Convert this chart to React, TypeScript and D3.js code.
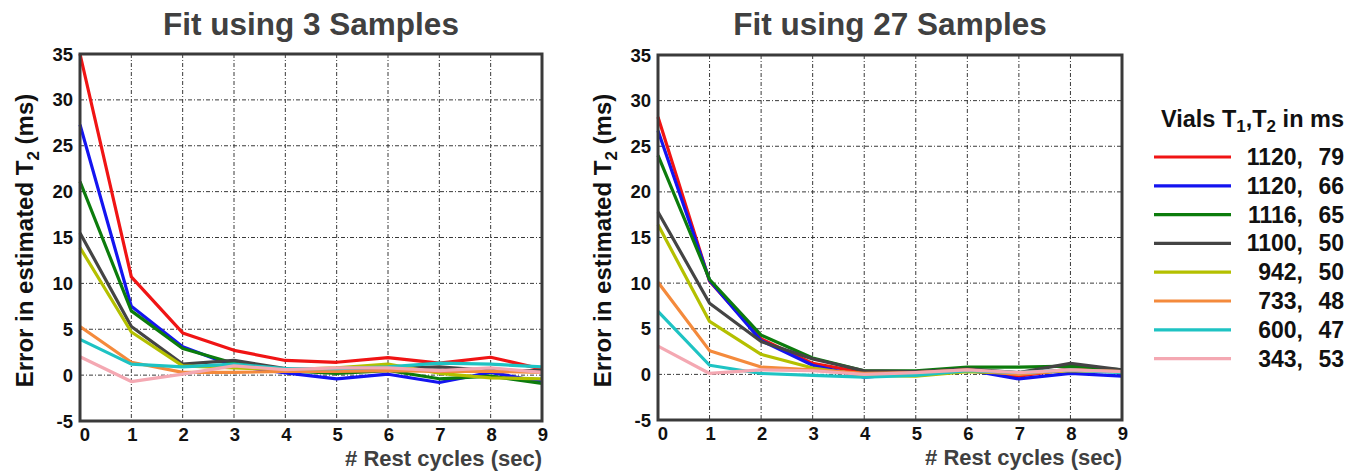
import React from "react";
import * as d3 from "d3";

// Rest cycles between acquisitions (sec)
const restCycles = [0, 1, 2, 3, 4, 5, 6, 7, 8, 9];
const yTickValues = [-5, 0, 5, 10, 15, 20, 25, 30, 35];

// Vials: T1, T2 in ms
const vialT1 = ["1120", "1120", "1116", "1100", "942", "733", "600", "343"];
const vialT2 = ["79", "66", "65", "50", "50", "48", "47", "53"];
const vialColors = ["#f01414", "#1414f0", "#0c7c0c", "#444444", "#b4c000", "#f48a3c", "#1ec3c3", "#f4a8b2"];

// Error in estimated T2 (ms), fit using 3 samples, one row per vial
const fit3Errors: number[][] = [
  [35.0, 10.7, 4.6, 2.7, 1.6, 1.4, 1.9, 1.3, 1.95, 0.65],
  [27.3, 7.5, 3.1, 1.0, 0.25, -0.4, 0.1, -0.8, 0.3, -0.75],
  [21.1, 7.0, 2.9, 1.3, 0.5, 0.2, 0.5, -0.4, -0.1, -0.9],
  [15.5, 5.3, 1.2, 1.6, 0.7, 0.5, 0.7, 0.9, 0.5, 0.5],
  [13.9, 4.7, 1.0, 0.8, 0.6, 0.8, 1.2, 0.2, -0.3, -0.4],
  [5.3, 1.4, 0.3, 0.3, 0.4, 0.4, 0.5, 0.4, 0.4, 0.3],
  [3.9, 1.2, 0.9, 1.2, 0.7, 0.7, 0.9, 1.3, 1.2, 0.9],
  [2.0, -0.7, 0.1, 1.0, 0.6, 0.8, 0.8, 0.5, 0.8, 0.3],
];

// Error in estimated T2 (ms), fit using 27 samples, one row per vial
const fit27Errors: number[][] = [
  [28.2, 10.2, 3.9, 1.2, 0.2, 0.2, 0.5, -0.2, 0.6, 0.3],
  [26.7, 10.3, 3.7, 1.0, -0.3, 0.1, 0.5, -0.5, 0.1, -0.2],
  [24.0, 10.4, 4.3, 1.8, 0.4, 0.4, 0.8, 0.8, 0.9, 0.5],
  [17.8, 7.8, 3.6, 1.7, 0.4, 0.3, 0.6, 0.2, 1.2, 0.5],
  [16.4, 5.8, 2.2, 0.7, -0.1, -0.2, 0.3, 0.1, 0.4, 0.3],
  [10.1, 2.6, 0.8, 0.5, 0.1, 0.2, 0.5, 0.0, 0.5, 0.3],
  [6.9, 1.0, 0.1, -0.1, -0.3, -0.1, 0.4, 0.2, 0.5, 0.2],
  [3.1, 0.1, 0.5, 0.4, 0.0, 0.2, 0.5, 0.2, 0.5, 0.3],
];

const FONT = "'Liberation Sans', Arial, Helvetica, sans-serif";

type PanelProps = {
  title: string;
  errors: number[][];
  left: number;
  right: number;
  top: number;
  bottom: number;
};

function Panel({ title, errors, left, right, top, bottom }: PanelProps) {
  const x = d3.scaleLinear().domain([0, 9]).range([left, right]);
  const y = d3.scaleLinear().domain([-5, 35]).range([bottom, top]);
  const line = d3
    .line<number>()
    .x((_, i) => x(restCycles[i]))
    .y((d) => y(d));

  const gridStyle = {
    stroke: "#3a3a3a",
    strokeWidth: 1,
    strokeDasharray: "4 2 1 2",
  };

  return (
    <g>
      <text
        x={(left + right) / 2}
        y={35}
        textAnchor="middle"
        fontFamily={FONT}
        fontWeight="bold"
        fontSize={31.5}
        fill="#404040"
      >
        {title}
      </text>

      {/* grid */}
      {restCycles.slice(1, -1).map((c) => (
        <line key={"gx" + c} x1={x(c)} x2={x(c)} y1={top} y2={bottom} style={gridStyle} />
      ))}
      {yTickValues.slice(1, -1).map((v) => (
        <line key={"gy" + v} x1={left} x2={right} y1={y(v)} y2={y(v)} style={gridStyle} />
      ))}

      {/* series */}
      <g>
        {errors.map((row, i) => (
          <path
            key={"s" + i}
            d={line(row) ?? ""}
            fill="none"
            stroke={vialColors[i]}
            strokeWidth={3.2}
            strokeLinejoin="round"
          />
        ))}
      </g>

      {/* frame */}
      <rect
        x={left}
        y={top}
        width={right - left}
        height={bottom - top}
        fill="none"
        stroke="#3a3a3a"
        strokeWidth={3}
      />

      {/* y tick labels */}
      {yTickValues.map((v) => (
        <text
          key={"yt" + v}
          x={left - 7}
          y={y(v) + 6.5}
          textAnchor="end"
          fontFamily={FONT}
          fontWeight="bold"
          fontSize={18.5}
          fill="#111"
        >
          {v}
        </text>
      ))}

      {/* x tick labels */}
      {restCycles.map((c) => (
        <text
          key={"xt" + c}
          x={x(c) + (c === 0 ? 5 : 1)}
          y={bottom + 20}
          textAnchor="middle"
          fontFamily={FONT}
          fontWeight="bold"
          fontSize={18.5}
          fill="#111"
        >
          {c}
        </text>
      ))}

      <text
        x={right}
        y={bottom + 45}
        textAnchor="end"
        fontFamily={FONT}
        fontWeight="bold"
        fontSize={22}
        fill="#404040"
      >
        # Rest cycles (sec)
      </text>

      <text
        transform={`translate(${left - 47},${(top + bottom) / 2 + 3}) rotate(-90)`}
        textAnchor="middle"
        fontFamily={FONT}
        fontWeight="bold"
        fontSize={24}
        fill="#111"
      >
        Error in estimated T
        <tspan fontSize={17} dy={6}>2</tspan>
        <tspan dy={-6}> (ms)</tspan>
      </text>
    </g>
  );
}

function Legend() {
  const top = 157;
  const step = 28.8;
  return (
    <g fontFamily={FONT} fontWeight="bold" fill="#111">
      <text x={1344} y={127} textAnchor="end" fontSize={23.5}>
        Vials T<tspan fontSize={17} dy={5}>1</tspan>
        <tspan dy={-5}>,T</tspan>
        <tspan fontSize={17} dy={5}>2</tspan>
        <tspan dy={-5}> in ms</tspan>
      </text>
      {vialT1.map((t1, i) => {
        const yy = top + i * step;
        return (
          <g key={"lg" + i}>
            <line x1={1154} x2={1231} y1={yy} y2={yy} stroke={vialColors[i]} strokeWidth={3.2} />
            <text x={1303} y={yy + 8} textAnchor="end" fontSize={23}>
              {t1},
            </text>
            <text x={1344} y={yy + 8} textAnchor="end" fontSize={23}>
              {vialT2[i]}
            </text>
          </g>
        );
      })}
    </g>
  );
}

export default function App() {
  return (
    <svg
      width={1365}
      height={475}
      style={{ position: "absolute", left: 0, top: 0, background: "#fff" }}
    >
      <rect x={0} y={0} width={1365} height={475} fill="#fff" />
      <Panel title="Fit using 3 Samples" errors={fit3Errors} left={80} right={542} top={54} bottom={421} />
      <Panel title="Fit using 27 Samples" errors={fit27Errors} left={658} right={1122} top={55} bottom={420} />
      <Legend />
    </svg>
  );
}
